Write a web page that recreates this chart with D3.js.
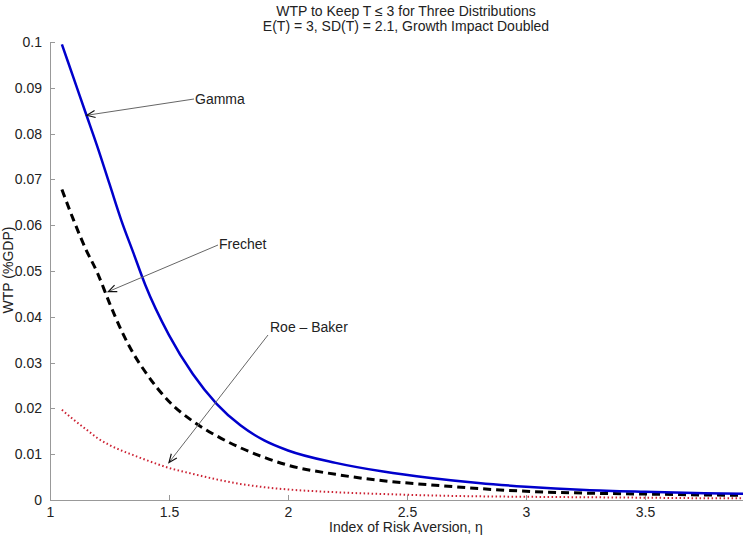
<!DOCTYPE html>
<html>
<head>
	<meta charset="utf-8">
	<title>WTP to Keep T ≤ 3</title>
	<script src="https://d3js.org/d3.v7.min.js"></script>
	<style>
		body { margin: 0; background: #fff; }
		svg { display: block; font-family: "Liberation Sans", Arial, sans-serif; }
		.axis path, .axis line { stroke: #999; shape-rendering: crispEdges; }
		.axis text { fill: #222; font-size: 14px; }
	</style>
</head>
<body>
	<div id="plot"></div>
	<script type="text/javascript">
		// data
		var eta = [1.05, 1.1, 1.15, 1.2, 1.25, 1.3, 1.35, 1.4, 1.5, 1.6, 1.7, 1.8, 1.9, 2.0, 2.2, 2.4, 2.6, 2.8, 3.0, 3.25, 3.5, 3.75, 4.0];
		var gammaWTP = [0.0995, 0.092, 0.0845, 0.077, 0.069, 0.061, 0.054, 0.047, 0.036, 0.0275, 0.021, 0.0163, 0.013, 0.0108, 0.0081, 0.0062, 0.0048, 0.0037, 0.0029, 0.0022, 0.0018, 0.0015, 0.0013];
		var frechetWTP = [0.0678, 0.061, 0.0548, 0.0495, 0.043, 0.037, 0.032, 0.028, 0.0215, 0.0172, 0.014, 0.0114, 0.0093, 0.0076, 0.0056, 0.0042, 0.0033, 0.0025, 0.0019, 0.0015, 0.0013, 0.0011, 0.001];
		var roeBakerWTP = [0.0197, 0.0175, 0.0155, 0.0135, 0.012, 0.0108, 0.0098, 0.0088, 0.007, 0.0057, 0.0045, 0.0035, 0.0028, 0.0023, 0.0017, 0.0013, 0.001, 0.0008, 0.0007, 0.0006, 0.0005, 0.0004, 0.0004];
		var xTicks = [1, 1.5, 2, 2.5, 3, 3.5];
		var yTicks = [0, 0.01, 0.02, 0.03, 0.04, 0.05, 0.06, 0.07, 0.08, 0.09, 0.1];

		var w = 743, h = 550;

		var svg = d3.select("#plot")
			.append("svg")
			.attr("width", w)
			.attr("height", h);

		// scales (axis runs to 4, which falls just past the right edge)
		var x = d3.scaleLinear().domain([1, 4]).range([50, 764]);
		var y = d3.scaleLinear().domain([0, 0.1]).range([500, 42]);

		// title
		svg.append("text").attr("x", 406).attr("y", 16).attr("text-anchor", "middle")
			.attr("font-size", 14).attr("fill", "#222").text("WTP to Keep T ≤ 3 for Three Distributions");
		svg.append("text").attr("x", 406).attr("y", 31).attr("text-anchor", "middle")
			.attr("font-size", 14).attr("fill", "#222").text("E(T) = 3, SD(T) = 2.1, Growth Impact Doubled");

		// axes, ticks pointing inward like matlab
		svg.append("g")
			.attr("class", "axis")
			.attr("transform", "translate(0,500)")
			.call(d3.axisBottom(x).tickValues(xTicks).tickSizeInner(-5).tickSizeOuter(0).tickPadding(7).tickFormat(d3.format("")));

		svg.append("g")
			.attr("class", "axis")
			.attr("transform", "translate(50,0)")
			.call(d3.axisLeft(y).tickValues(yTicks).tickSizeInner(-5).tickSizeOuter(0).tickPadding(8).tickFormat(d3.format("")));

		// axis titles
		svg.append("text").attr("x", 406).attr("y", 532).attr("text-anchor", "middle")
			.attr("font-size", 14).attr("fill", "#222").text("Index of Risk Aversion, η");
		svg.append("text").attr("transform", "translate(13,270) rotate(-90)").attr("text-anchor", "middle")
			.attr("font-size", 14).attr("fill", "#222").text("WTP (%GDP)");

		// curves
		var line = d3.line().curve(d3.curveMonotoneX);
		function pts(vals) { return eta.map(function(e, i) { return [x(e), y(vals[i])]; }); }

		svg.append("path").attr("d", line(pts(roeBakerWTP)))
			.attr("fill", "none").attr("stroke", "#cc2233").attr("stroke-width", 2)
			.attr("stroke-dasharray", "1.5,2.5");
		svg.append("path").attr("d", line(pts(frechetWTP)))
			.attr("fill", "none").attr("stroke", "#000").attr("stroke-width", 3)
			.attr("stroke-dasharray", "8,5");
		svg.append("path").attr("d", line(pts(gammaWTP)))
			.attr("fill", "none").attr("stroke", "#0000cc").attr("stroke-width", 2.5);

		// annotation arrows: label at the tail, chevron head at the curve
		var labels = ["Gamma", "Frechet", "Roe \u2013 Baker"];
		var tails = [[194, 99], [218, 245], [268, 335]];
		var heads = [[1.155, 0.084], [1.245, 0.0455], [1.5, 0.0082]];
		var textPos = [[195, 104], [219, 249], [270, 332]];

		labels.forEach(function(lab, i) {
			var x0 = tails[i][0], y0 = tails[i][1];
			var x1 = x(heads[i][0]), y1 = y(heads[i][1]);
			var ang = Math.atan2(y1 - y0, x1 - x0);
			svg.append("line").attr("x1", x0).attr("y1", y0).attr("x2", x1).attr("y2", y1)
				.attr("stroke", "#666").attr("stroke-width", 1);
			var a = 9, s = 0.4;
			var p1 = [x1 - a * Math.cos(ang - s), y1 - a * Math.sin(ang - s)];
			var p2 = [x1 - a * Math.cos(ang + s), y1 - a * Math.sin(ang + s)];
			svg.append("path").attr("d", "M" + p1 + "L" + [x1, y1] + "L" + p2)
				.attr("fill", "none").attr("stroke", "#111").attr("stroke-width", 1.2);
			svg.append("text").attr("x", textPos[i][0]).attr("y", textPos[i][1])
				.attr("font-size", 14).attr("fill", "#222").text(lab);
		});
	</script>
</body>
</html>
